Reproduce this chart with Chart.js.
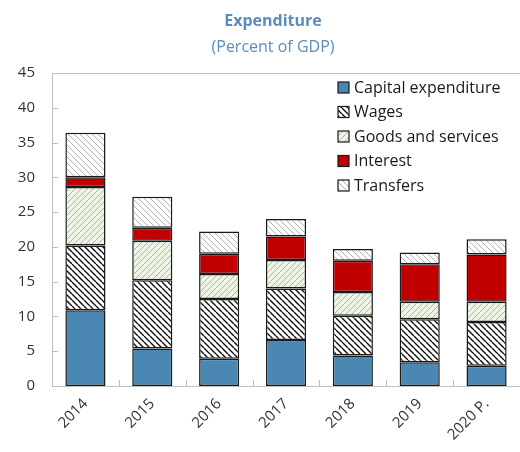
<!DOCTYPE html>
<html>
<head>
<meta charset="utf-8">
<script src="https://cdn.jsdelivr.net/npm/chart.js@4"></script>
<style>
  html, body { margin: 0; padding: 0; background: #fff; }
  #wrap { width: 520px; height: 452px; }
</style>
</head>
<body>
<div id="wrap"><canvas id="expChart" width="520" height="452"></canvas></div>
<script>
// Data (percent of GDP)
const years = ['2014', '2015', '2016', '2017', '2018', '2019', '2020 P.'];
const capital = [10.9, 5.4, 3.9, 6.6, 4.4, 3.4, 2.9];
const wages = [9.3, 9.8, 8.6, 7.4, 5.7, 6.2, 6.3];
const goods = [8.4, 5.7, 3.6, 4.1, 3.4, 2.5, 2.9];
const interest = [1.4, 1.85, 2.9, 3.4, 4.5, 5.4, 6.8];
const transfers = [6.4, 4.45, 3.2, 2.5, 1.7, 1.7, 2.2];
const yTicks = [0, 5, 10, 15, 20, 25, 30, 35, 40, 45];

const titleText = 'Expenditure';
const subtitleText = '(Percent of GDP)';
const FONT = "'Open Sans', 'Noto Sans', sans-serif";

function hatch(bg, line, width, size, dir) {
    const c = document.createElement('canvas');
    c.width = size;
    c.height = size;
    const x = c.getContext('2d');
    x.fillStyle = bg;
    x.fillRect(0, 0, size, size);
    x.strokeStyle = line;
    x.lineWidth = width;
    x.beginPath();
    for (let k = -size; k <= size; k += size) {
        if (dir === 'down') {
            x.moveTo(k, 0);
            x.lineTo(k + size, size);
        } else {
            x.moveTo(k, size);
            x.lineTo(k + size, 0);
        }
    }
    x.stroke();
    return x.createPattern(c, 'repeat');
}

const ctx = document.getElementById('expChart').getContext('2d');

const wagesFill = hatch('#ffffff', '#111111', 1.4, 6, 'down');
const goodsFill = hatch('#eef4e6', '#a8b89c', 1, 6, 'up');
const transfersFill = hatch('#ffffff', '#b0b0b0', 1, 6, 'down');

const datasets = [
    { label: 'Capital expenditure', data: capital, backgroundColor: '#4a87b2' },
    { label: 'Wages', data: wages, backgroundColor: wagesFill },
    { label: 'Goods and services', data: goods, backgroundColor: goodsFill },
    { label: 'Interest', data: interest, backgroundColor: '#c00000' },
    { label: 'Transfers', data: transfers, backgroundColor: transfersFill }
].map(function (d) {
    return Object.assign(d, {
        borderColor: '#1a1a1a',
        borderWidth: 1.5,
        borderSkipped: false,
        barPercentage: 0.6,
        categoryPercentage: 1
    });
});

// titles, frame, inward ticks, legend inside the plot
const decor = {
    id: 'decor',
    afterDraw(chart) {
        const c = chart.ctx;
        const a = chart.chartArea;
        const xs = chart.scales.x;
        const ys = chart.scales.y;

        c.save();
        c.textAlign = 'center';
        c.textBaseline = 'middle';
        c.fillStyle = '#5b8cbf';
        c.font = 'bold 16px ' + FONT;
        c.fillText(titleText, 273, 21);
        c.font = '16px ' + FONT;
        c.fillText(subtitleText, 273, 47);

        c.strokeStyle = '#bfbfbf';
        c.lineWidth = 1;
        c.beginPath();
        c.moveTo(a.left + 0.5, a.bottom + 0.5);
        c.lineTo(a.left + 0.5, a.top + 0.5);
        c.lineTo(a.right, a.top + 0.5);
        c.moveTo(a.left, a.bottom + 0.5);
        c.lineTo(a.right, a.bottom + 0.5);
        yTicks.forEach(function (v) {
            const y = Math.round(ys.getPixelForValue(v)) + 0.5;
            c.moveTo(a.left, y);
            c.lineTo(a.left + 6, y);
        });
        for (let i = 0; i <= years.length; i++) {
            const x = Math.round(xs.getPixelForValue(i - 0.5)) + 0.5;
            c.moveTo(x, a.bottom);
            c.lineTo(x, a.bottom - 6);
        }
        c.stroke();

        // legend
        c.textAlign = 'left';
        c.font = '16px ' + FONT;
        chart.data.datasets.forEach(function (d, i) {
            const y = 88 + i * 24.5;
            c.fillStyle = d.backgroundColor;
            c.fillRect(338, y - 6, 11, 11);
            c.strokeStyle = '#1a1a1a';
            c.lineWidth = 1.2;
            c.strokeRect(338, y - 6, 11, 11);
            c.fillStyle = '#1a1a1a';
            c.fillText(d.label, 354, y);
        });
        c.restore();
    }
};

new Chart(ctx, {
    type: 'bar',
    data: { labels: years, datasets: datasets },
    plugins: [decor],
    options: {
        responsive: false,
        animation: false,
        layout: { padding: { top: 73, left: 0, right: 0, bottom: 0 } },
        plugins: {
            legend: { display: false },
            tooltip: { enabled: false },
            title: { display: false }
        },
        scales: {
            x: {
                stacked: true,
                grid: { display: false, drawTicks: false },
                border: { display: false },
                ticks: {
                    color: '#333333',
                    font: { family: FONT, size: 15 },
                    minRotation: 45,
                    maxRotation: 45,
                    padding: 9
                },
                afterFit(scale) { scale.height = 66; }
            },
            y: {
                stacked: true,
                min: 0,
                max: 45,
                grid: { display: false, drawTicks: false },
                border: { display: false },
                ticks: {
                    stepSize: 5,
                    color: '#333333',
                    font: { family: FONT, size: 15 },
                    padding: 17
                },
                afterFit(scale) { scale.width = 52; }
            }
        }
    }
});
</script>
</body>
</html>
